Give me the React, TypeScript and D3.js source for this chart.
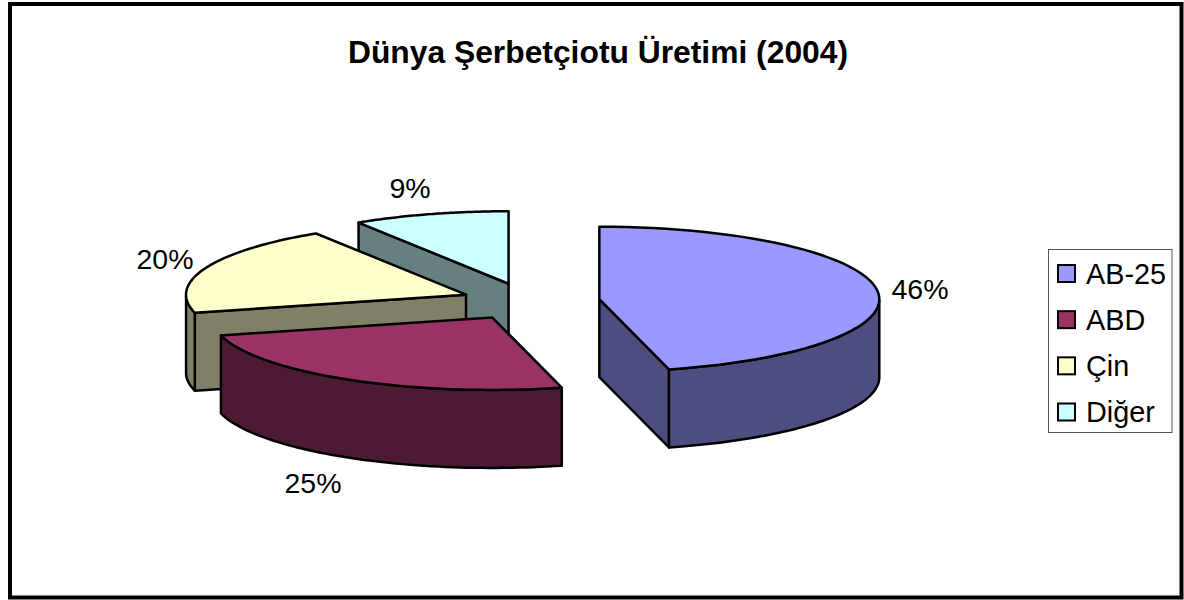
import React from "react";
import * as d3 from "d3";

const categories = ["AB-25", "ABD", "Çin", "Diğer"];
const values = [46, 25, 20, 9];
const percentLabels = ["46%", "25%", "20%", "9%"];
const topColors = ["#9999ff", "#993366", "#ffffcc", "#ccffff"];
const sideColors = ["#4d4d80", "#4d1a33", "#808066", "#668080"];
const title = "Dünya Şerbetçiotu Üretimi (2004)";

const CX = 528.5, CY = 301.5, RX = 280, RY = 72.5, DEPTH = 78, EXPLODE = 0.255;
const labelPos: [number, number][] = [[920, 299], [313, 493], [165, 269], [410, 198]];
const sans = "'Liberation Sans', Arial, sans-serif";

const slices = d3.pie<number>().sort(null).value((d) => d)(values);
const line = d3.line<[number, number]>();

function App() {
  const rows = d3.scalePoint<string>().domain(categories).range([273.5, 412]);
  const order = [3, 2, 1, 0];
  return (
    <svg width={1184} height={600} style={{ position: "absolute", left: 0, top: 0 }}>
      <rect x={0} y={0} width={1184} height={600} fill="#fff" />
      <rect x={10} y={4} width={1171.5} height={593.5} fill="#fff" stroke="#000" strokeWidth={4} />
      <text x={598} y={63} textAnchor="middle" fontFamily={sans} fontWeight="bold" fontSize={31.8} fill="#000">{title}</text>
      {order.map((i) => {
        const s = slices[i];
        const mid = (s.startAngle + s.endAngle) / 2;
        const ax = CX + Math.sin(mid) * RX * EXPLODE + (i === 2 ? 3.9 : 0);
        const ay = CY - Math.cos(mid) * RY * EXPLODE;
        const pt = (a: number, dz = 0): [number, number] => [ax + RX * Math.sin(a), ay - RY * Math.cos(a) + dz];
        const arcPts = d3.range(0, 61).map((k) => s.startAngle + ((s.endAngle - s.startAngle) * k) / 60);
        const top = line([[ax, ay], ...arcPts.map((a) => pt(a))]) + "Z";
        // outer wall: part of the arc facing the viewer (between 90° and 270°)
        const wallArc = arcPts.filter((a) => a >= Math.PI / 2 && a <= (3 * Math.PI) / 2);
        const wall = wallArc.length > 1
          ? line([...wallArc.map((a) => pt(a)), ...[...wallArc].reverse().map((a) => pt(a, DEPTH))]) + "Z"
          : null;
        // cut faces whose outward normal points toward the viewer
        const cuts: number[] = [];
        if (Math.sin(s.startAngle) < -1e-6) cuts.push(s.startAngle);
        if (Math.sin(s.endAngle) > 1e-6) cuts.push(s.endAngle);
        return (
          <g key={categories[i]} stroke="#000" strokeWidth={2.5} strokeLinejoin="round">
            {cuts.map((a, k) => (
              <path key={k} fill={sideColors[i]} d={line([[ax, ay], pt(a), pt(a, DEPTH), [ax, ay + DEPTH]]) + "Z"} />
            ))}
            {wall && <path fill={sideColors[i]} d={wall} />}
            <path fill={topColors[i]} d={top} />
          </g>
        );
      })}
      {percentLabels.map((t, i) => (
        <text key={t} x={labelPos[i][0]} y={labelPos[i][1]} textAnchor="middle" fontFamily={sans} fontSize={28.5} fill="#000">{t}</text>
      ))}
      <rect x={1048.5} y={249.5} width={123.5} height={183} fill="#fff" stroke="#555" strokeWidth={1} />
      {categories.map((c, i) => {
        const y = rows(c)!;
        return (
          <g key={c}>
            <rect x={1058} y={y - 8.5} width={17} height={17} fill={topColors[i]} stroke="#000" strokeWidth={2} />
            <text x={1086} y={y + 10} fontFamily={sans} fontSize={28.8} fill="#000">{c}</text>
          </g>
        );
      })}
    </svg>
  );
}

export default App;
